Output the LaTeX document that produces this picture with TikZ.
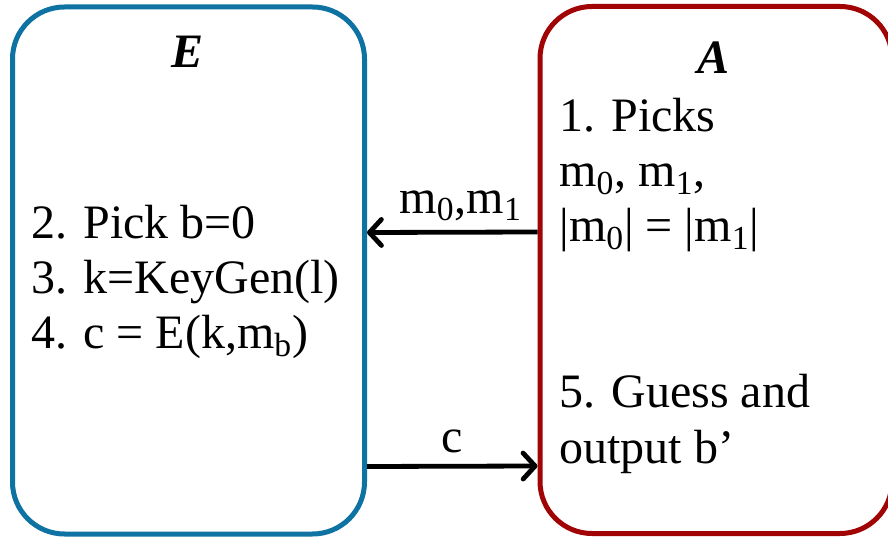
\documentclass[tikz,border=0pt]{standalone}
\usepackage{fontspec}
\setmainfont{Liberation Serif}
\usetikzlibrary{arrows.meta,positioning}
\definecolor{eblue}{RGB}{14,114,162}
\definecolor{ared}{RGB}{160,4,4}

\begin{document}
\begin{tikzpicture}[x=0.5pt,y=-0.5pt,
  party/.style={draw,line width=2.5pt,rounded corners=26pt,minimum width=176pt,minimum height=263.5pt,inner sep=0pt},
  txt/.style={anchor=base west,align=left,inner sep=0pt,font=\fontsize{24}{27.7}\selectfont},
  who/.style={anchor=base,font=\fontsize{24}{27.7}\selectfont\bfseries\itshape},
  msg/.style={line width=2.4pt,-{Straight Barb[length=6pt,width=13pt,round]}}]
  \useasboundingbox (0,0) rectangle (888,539);
  \begin{scope}
    \clip (0,0) rectangle (888,539);
    % the two parties
    \node[party,draw=eblue] (Ebox) at (188.5,270.5) {};
    \node[party,draw=ared] (Abox) at (716,270) {};
  \end{scope}
  \node[who] (Ename) at (188,68) {E};
  \node[who] (Aname) at (713,74) {A};
  % steps of E (anchored at the last line)
  \node[txt] (Esteps) at (31,349)
    {2. Pick b=0\\3. k=KeyGen(l)\\4. c = E(k,m\textsubscript{b})};
  % steps of A
  \node[txt] (Apick) at (559,242)
    {1. Picks\\m\textsubscript{0}, m\textsubscript{1},\\|m\textsubscript{0}| = |m\textsubscript{1}|};
  \node[txt] (Aguess) at (559,463) {5. Guess and\\output b’};
  % messages
  \draw[msg] ([yshift=19pt]Abox.west) -- ([yshift=19pt]Ebox.east)
    node[pos=0.45,above=1pt,font=\fontsize{24}{27.7}\selectfont] (mlabel) {m\textsubscript{0},m\textsubscript{1}};
  \draw[msg] ([yshift=-98pt]Ebox.east) -- ([yshift=-98pt]Abox.west)
    node[midway,above=2pt,font=\fontsize{24}{27.7}\selectfont] (clabel) {c};
\end{tikzpicture}
\end{document}
